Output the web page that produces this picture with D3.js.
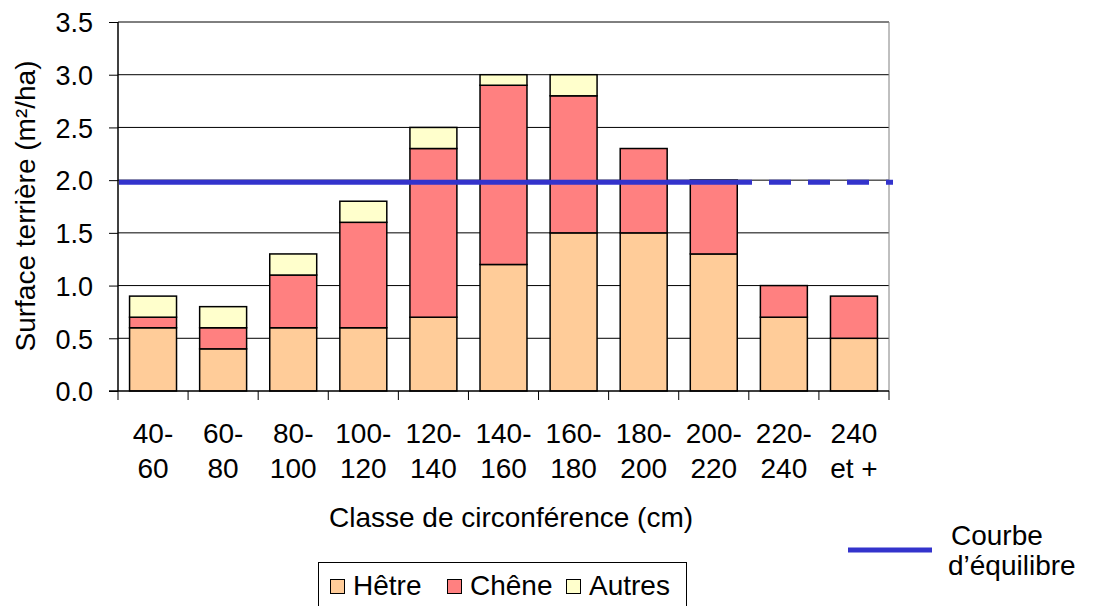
<!DOCTYPE html>
<html><head><meta charset="utf-8">
<script src="https://cdn.jsdelivr.net/npm/d3@7"></script>
<style>body{margin:0;background:#fff}svg{display:block;font-family:"Liberation Sans",Arial,sans-serif}</style>
</head><body><svg id="c" width="1093" height="606"></svg>
<script>
const categories = [["40-","60"],["60-","80"],["80-","100"],["100-","120"],["120-","140"],["140-","160"],["160-","180"],["180-","200"],["200-","220"],["220-","240"],["240","et +"]];
const hetre  = [0.6,0.4,0.6,0.6,0.7,1.2,1.5,1.5,1.3,0.7,0.5];
const chene  = [0.1,0.2,0.5,1.0,1.6,1.7,1.3,0.8,0.7,0.3,0.4];
const autres = [0.2,0.2,0.2,0.2,0.2,0.1,0.2,0,0,0,0];
const seriesNames = ["Hêtre","Chêne","Autres"];
const colors = ["#FFCC99","#FF8080","#FFFFCC"];
const yTicks = [0,0.5,1,1.5,2,2.5,3,3.5];
const equilibre = 1.98;

const svg = d3.select("#c");
const L=118,R=889,T=22,B=391;
const FS=28;
const keys = categories.map(c=>c.join(" "));
const x = d3.scaleBand().domain(keys).range([L,R]).paddingInner(0.33).paddingOuter(0.165);
const xb = d3.scaleBand().domain(keys).range([L,R]);
const y = d3.scaleLinear().domain([0,3.5]).range([B,T]);

// gridlines
svg.append("g").selectAll("line").data(yTicks.slice(1)).join("line")
  .attr("x1",L).attr("x2",R).attr("y1",d=>y(d)).attr("y2",d=>y(d))
  .attr("stroke","#000").attr("stroke-width",1);
// right border
svg.append("line").attr("x1",R).attr("x2",R).attr("y1",T).attr("y2",B).attr("stroke","#808080");

const table = keys.map((k,i)=>({key:k,"Hêtre":hetre[i],"Chêne":chene[i],"Autres":autres[i]}));
const stack = d3.stack().keys(seriesNames)(table);
svg.append("g").selectAll("g").data(stack).join("g").attr("fill",(d,i)=>colors[i])
  .selectAll("rect").data(d=>d.filter(s=>s[1]-s[0]>0)).join("rect")
  .attr("x",d=>x(d.data.key)).attr("width",x.bandwidth())
  .attr("y",d=>y(d[1])).attr("height",d=>y(d[0])-y(d[1]))
  .attr("stroke","#000").attr("stroke-width",1.5);

// equilibrium line
const xEnd = R+4, xSolidEnd = 752;
svg.append("line").attr("x1",L+1).attr("x2",xSolidEnd).attr("y1",y(equilibre)).attr("y2",y(equilibre))
  .attr("stroke","#3333CC").attr("stroke-width",5);
svg.append("line").attr("x1",xSolidEnd).attr("x2",xEnd).attr("y1",y(equilibre)).attr("y2",y(equilibre))
  .attr("stroke","#3333CC").attr("stroke-width",5).attr("stroke-dasharray","0 17 22 17 22 17 22 17 22");

// y axis
const ya = svg.append("g").attr("transform",`translate(${L},0)`)
  .call(d3.axisLeft(y).tickValues(yTicks).tickFormat(d3.format(".1f")).tickSize(9).tickPadding(16));
ya.select(".domain").remove();
ya.append("line").attr("x1",0).attr("x2",0).attr("y1",T).attr("y2",B).attr("stroke","#000").attr("stroke-width",1.5);
ya.selectAll(".tick line").attr("stroke","#000");
ya.selectAll("text").attr("font-size",27).attr("fill","#000").attr("dy","0.36em").attr("font-family","Liberation Sans, Arial, sans-serif");

// x axis
svg.append("line").attr("x1",L-9).attr("x2",R).attr("y1",B).attr("y2",B).attr("stroke","#000").attr("stroke-width",1.5);
const bounds = keys.map(k=>xb(k)).concat([R]);
svg.append("g").selectAll("line").data(bounds).join("line")
  .attr("x1",d=>d).attr("x2",d=>d).attr("y1",B).attr("y2",B+9).attr("stroke","#000");
const xl = svg.append("g").selectAll("text").data(categories).join("text")
  .attr("x",(d,i)=>xb(keys[i])+xb.bandwidth()/2).attr("text-anchor","middle")
  .attr("font-size",FS).attr("fill","#000");
xl.append("tspan").attr("x",(d,i)=>xb(keys[i])+xb.bandwidth()/2).attr("y",443).text(d=>d[0]);
xl.append("tspan").attr("x",(d,i)=>xb(keys[i])+xb.bandwidth()/2).attr("y",478).text(d=>d[1]);

// titles
svg.append("text").attr("x",511).attr("y",527).attr("text-anchor","middle").attr("font-size",FS).text("Classe de circonférence (cm)");
svg.append("text").attr("transform","translate(35,206) rotate(-90)").attr("text-anchor","middle").attr("font-size",FS).text("Surface terrière (m²/ha)");

// legend bottom
const lg = svg.append("g");
lg.append("rect").attr("x",318.5).attr("y",562.5).attr("width",368).attr("height",60).attr("fill","#fff").attr("stroke","#000");
const items = [{x:330,t:"Hêtre"},{x:447,t:"Chêne"},{x:566,t:"Autres"}];
items.forEach((it,i)=>{
  lg.append("rect").attr("x",it.x+0.5).attr("y",579.5).attr("width",14).attr("height",14).attr("fill",colors[i]).attr("stroke","#000");
  lg.append("text").attr("x",it.x+23).attr("y",595).attr("font-size",FS).text(it.t);
});
// legend right
svg.append("line").attr("x1",848).attr("x2",932).attr("y1",550).attr("y2",550).attr("stroke","#3333CC").attr("stroke-width",5);
svg.append("text").attr("x",951).attr("y",545).attr("font-size",FS).text("Courbe");
svg.append("text").attr("x",948).attr("y",575).attr("font-size",FS).text("d’équilibre");
</script></body></html>
